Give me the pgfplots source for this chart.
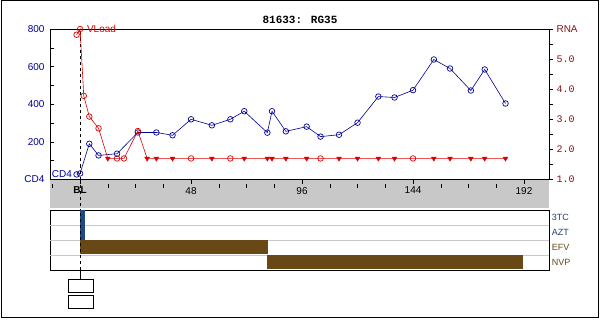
\documentclass[border=0pt]{standalone}
\usepackage{pgfplots}
\pgfplotsset{compat=1.18}
\usepackage{fontspec}
\setmainfont{Liberation Sans}
\newfontfamily\monofont{Liberation Mono}
\definecolor{cdblue}{RGB}{0,0,150}
\definecolor{vlred}{RGB}{220,0,0}
\definecolor{rnared}{RGB}{130,20,20}
\definecolor{bandgray}{RGB}{200,200,200}
\definecolor{sepgray}{RGB}{200,200,200}
\definecolor{drugblue}{RGB}{34,72,128}
\definecolor{drugbrown}{RGB}{104,72,20}
\definecolor{labblue}{RGB}{40,62,105}
\definecolor{labbrown}{RGB}{100,72,25}
\begin{document}
\begin{tikzpicture}[x=1pt,y=1pt]
\useasboundingbox (0,0) rectangle (600,319);
\draw[line width=1pt] (1,1.5) rectangle (598.5,318.5);
\fill[bandgray] (50,111) rectangle (549,139.5);
\node[font=\monofont\bfseries\fontsize{11}{12}\selectfont] at (300,299) {81633: RG35};

% main CD4 axis
\begin{axis}[at={(50pt,139.5pt)}, anchor=south west, scale only axis,
  width=499pt, height=150.5pt, clip=false,
  xmin=-13, xmax=202.8, ymin=0, ymax=800,
  xtick={0,48,96,144,192}, xticklabels={\textbf{BL},48,96,144,192},
  minor xtick={-12,12,24,36,60,72,84,108,120,132,156,168,180},
  ytick={0,200,400,600,800}, yticklabels={CD4,200,400,600,800},
  minor ytick={100,300,500,700},
  xtick pos=lower, ytick pos=left,
  tick align=inside, major tick length=4pt, minor tick length=4pt,
  x tick style={yshift=-4pt}, minor x tick style={yshift=-4pt},
  tick style={black, line width=0.5pt},
  /pgf/number format/assume math mode=true,
  xticklabel style={font=\fontsize{10}{12}\selectfont, yshift=-4pt},
  yticklabel style={font=\fontsize{10}{12}\selectfont, text=cdblue, xshift=-2pt},
  axis line style={line width=0.9pt},
]
\addplot[cdblue, line width=0.6pt, mark=o, mark size=2.8pt, mark options={line width=0.7pt}] coordinates {
(-1.5,27) (0,32) (4,190) (8,128) (16,137) (25,250) (33,250) (40,235) (48,320)
(57,288) (65,320) (71,363) (81,249) (83,363) (89,256) (98,281) (104,228)
(112,238) (120,302) (129,441) (136,436) (144,475) (153,638) (160,590)
(169,473) (175,585) (184,404)};
\node[anchor=east, text=cdblue, font=\fontsize{10}{12}\selectfont, inner sep=1pt] at (axis cs:-3,27) {CD4};
\draw[dashed, line width=0.6pt] (axis cs:0,0) -- (axis cs:0,800);
\end{axis}

% right RNA axis
\begin{axis}[at={(50pt,139.5pt)}, anchor=south west, scale only axis,
  width=499pt, height=150.5pt, clip=false,
  xmin=-13, xmax=202.8, ymin=1, ymax=6,
  axis x line=none, axis y line*=right,
  ytick={1,2,3,4,5,6}, yticklabels={1.0,2.0,3.0,4.0,5.0,{\rmfamily RNA}},
  minor ytick={1.5,2.5,3.5,4.5,5.5},
  tick align=outside, major tick length=4pt, minor tick length=4pt,
  tick style={black, line width=0.5pt},
  /pgf/number format/assume math mode=true,
  yticklabel style={font=\monofont\fontsize{10}{12}\selectfont, text=rnared},
  axis line style={line width=0.9pt},
]
\addplot[vlred, line width=0.6pt, mark=none] coordinates {
(-1.5,5.81) (0,6.0) (1.6,3.78) (4,3.09) (8,2.70) (12,1.7) (16,1.7) (19,1.7)
(25,2.61) (29,1.7) (33,1.7) (40,1.7) (48,1.7) (57,1.7) (65,1.7) (71,1.7)
(81,1.7) (83,1.7) (89,1.7) (98,1.7) (104,1.7) (112,1.7) (120,1.7) (129,1.7)
(136,1.7) (144,1.7) (153,1.7) (160,1.7) (169,1.7) (175,1.7) (184,1.7)};
\addplot[only marks, vlred, mark=o, mark size=2.8pt, mark options={line width=0.7pt}] coordinates {
(-1.5,5.81) (0,6.0) (1.6,3.78) (4,3.09) (8,2.70) (16,1.7) (19,1.7) (25,2.61)
(48,1.7) (65,1.7) (104,1.7) (144,1.7)};
\addplot[only marks, vlred, mark=triangle*, mark size=2.8pt, mark options={rotate=180}] coordinates {
(12,1.7) (29,1.7) (33,1.7) (40,1.7) (57,1.7) (71,1.7) (81,1.7) (83,1.7) (89,1.7)
(98,1.7) (112,1.7) (120,1.7) (129,1.7) (136,1.7) (153,1.7) (160,1.7) (169,1.7)
(175,1.7) (184,1.7)};
\node[anchor=west, text=vlred, font=\fontsize{10}{12}\selectfont, inner sep=1pt] at (axis cs:2.5,6.0) {VLoad};
\end{axis}

% drug panel
\begin{axis}[at={(50pt,49pt)}, anchor=south west, scale only axis,
  width=499pt, height=60pt, clip=false,
  xmin=-13, xmax=202.8, ymin=0, ymax=4,
  xtick=\empty, ytick=\empty,
  axis line style={line width=0.9pt},
]
\draw[sepgray, line width=0.6pt] (axis cs:-13,1) -- (axis cs:202.8,1);
\draw[sepgray, line width=0.6pt] (axis cs:-13,2) -- (axis cs:202.8,2);
\draw[sepgray, line width=0.6pt] (axis cs:-13,3) -- (axis cs:202.8,3);
\addplot[fill=drugblue, draw=none] coordinates {(0,3) (2.2,3) (2.2,4) (0,4)} -- cycle;
\addplot[fill=drugblue, draw=none] coordinates {(0,2) (2.2,2) (2.2,3) (0,3)} -- cycle;
\addplot[fill=drugbrown, draw=none] coordinates {(0,1.1) (81.4,1.1) (81.4,2) (0,2)} -- cycle;
\addplot[fill=drugbrown, draw=none] coordinates {(81,0.05) (191.4,0.05) (191.4,0.98) (81,0.98)} -- cycle;
\draw[dashed, line width=0.6pt] (axis cs:0,0) -- (axis cs:0,4);
\node[anchor=west, text=labblue, font=\fontsize{9}{11}\selectfont, inner sep=1pt] at (axis cs:203.5,3.5) {3TC};
\node[anchor=west, text=labblue, font=\fontsize{9}{11}\selectfont, inner sep=1pt] at (axis cs:203.5,2.5) {AZT};
\node[anchor=west, text=labbrown, font=\fontsize{9}{11}\selectfont, inner sep=1pt] at (axis cs:203.5,1.5) {EFV};
\node[anchor=west, text=labbrown, font=\fontsize{9}{11}\selectfont, inner sep=1pt] at (axis cs:203.5,0.5) {NVP};
\end{axis}

\draw[dashed, line width=0.6pt] (80.06,139.5) -- (80.06,109);
\draw[line width=0.6pt] (80.06,49) -- (80.06,40);
\draw[line width=0.6pt] (68,27) rectangle (93,40);
\draw[line width=0.6pt] (68,11) rectangle (93,24);
\end{tikzpicture}
\end{document}
